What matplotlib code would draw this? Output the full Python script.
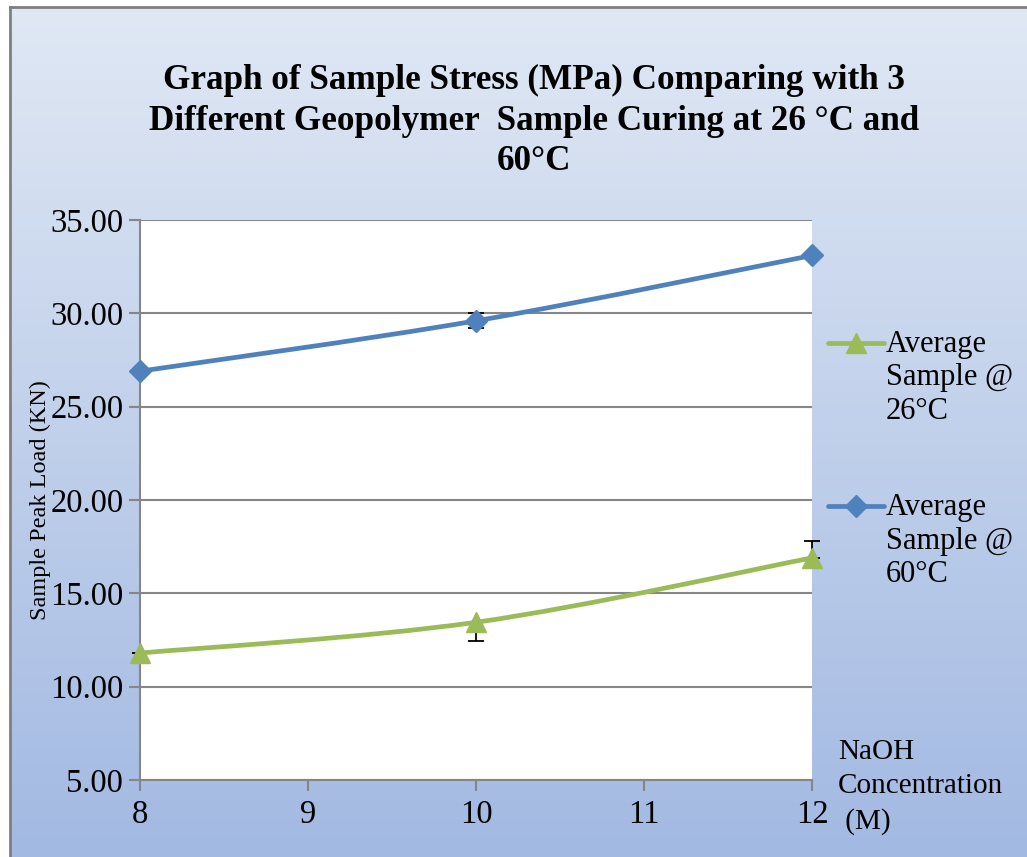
import numpy as np
import matplotlib
matplotlib.use("Agg")
import matplotlib.pyplot as plt
from matplotlib.path import Path
from matplotlib.patches import PathPatch
from matplotlib.lines import Line2D

plt.rcParams['font.family'] = ['Liberation Serif', 'DejaVu Serif']

# NaOH concentration (M) and average peak loads
conc = [8, 10, 12]
load_26 = [11.8, 13.45, 16.9]
load_60 = [26.9, 29.6, 33.1]

# error bar extents (minus, plus)
err_26 = [[0.0, 1.0, 0.0], [0.0, 0.0, 0.9]]
err_60 = [[0.0, 0.4, 0.0], [0.0, 0.4, 0.0]]

series_labels = ['Average\nSample @\n26\u00b0C', 'Average\nSample @\n60\u00b0C']

green = '#9bbb59'
blue = '#4f81bd'
grid_col = '#868686'

W, H = 1027, 857


def smooth_path(xs, ys):
    # cubic Bezier through the points, same idea as a spreadsheet "smoothed line"
    pts = np.column_stack([xs, ys]).astype(float)
    verts = [pts[0]]
    codes = [Path.MOVETO]
    n = len(pts)
    for i in range(n - 1):
        p0 = pts[i - 1] if i > 0 else pts[i]
        p1 = pts[i]
        p2 = pts[i + 1]
        p3 = pts[i + 2] if i + 2 < n else pts[i + 1]
        c1 = p1 + (p2 - p0) / 6.0
        c2 = p2 - (p3 - p1) / 6.0
        verts += [c1, c2, p2]
        codes += [Path.CURVE4] * 3
    return Path(verts, codes)


fig = plt.figure(figsize=(W / 100, H / 100), dpi=100)

# gradient chart background with a thin grey frame
bg = fig.add_axes([10 / W, 0, 1 - 10 / W, 1 - 7 / H], zorder=-5)
grad = np.linspace(0, 1, 256).reshape(-1, 1)
cmap = matplotlib.colors.LinearSegmentedColormap.from_list('bg', ['#e0e8f4', '#a2b9e2'])
bg.imshow(grad, aspect='auto', cmap=cmap, extent=[0, 1, 0, 1], origin='upper')
bg.set_xlim(0, 1)
bg.set_ylim(0, 1)
bg.set_xticks([])
bg.set_yticks([])
for side in ['right', 'bottom']:
    bg.spines[side].set_visible(False)
for side in ['left', 'top']:
    bg.spines[side].set_color('#7f7f7f')
    bg.spines[side].set_linewidth(2)

ax = fig.add_axes([140 / W, 1 - 780 / H, (812 - 140) / W, (780 - 220) / H])
ax.set_facecolor('white')
ax.set_xlim(8, 12)
ax.set_ylim(5, 35)
ax.set_yticks(np.arange(5, 36, 5))
ax.set_yticklabels([f'{v:.2f}' for v in np.arange(5, 36, 5)])
ax.set_xticks([8, 9, 10, 11, 12])
ax.yaxis.grid(True, color=grid_col, linewidth=1.5)
ax.set_axisbelow(True)
for side in ['right', 'top']:
    ax.spines[side].set_visible(False)
for side in ['left', 'bottom']:
    ax.spines[side].set_color(grid_col)
    ax.spines[side].set_linewidth(1.5)
ax.tick_params(axis='both', colors=grid_col, labelcolor='black', labelsize=23.5,
               length=8, width=1.5, direction='out')
ax.tick_params(axis='x', pad=6)
ax.tick_params(axis='y', pad=4)

# error bars sit underneath the lines and markers
ax.errorbar(conc, load_26, yerr=err_26, fmt='none', ecolor='black', elinewidth=1.3,
            capsize=6, capthick=1.3, zorder=3, clip_on=False)
ax.errorbar(conc, load_60, yerr=err_60, fmt='none', ecolor='black', elinewidth=1.3,
            capsize=6, capthick=1.3, zorder=3, clip_on=False)

for ys, col in [(load_26, green), (load_60, blue)]:
    patch = PathPatch(smooth_path(conc, ys), facecolor='none', edgecolor=col,
                      linewidth=3.4, capstyle='round', zorder=4, clip_on=False)
    ax.add_patch(patch)

ax.plot(conc, load_26, linestyle='none', marker='^', markersize=15, color=green,
        zorder=5, clip_on=False)
ax.plot(conc, load_60, linestyle='none', marker='D', markersize=11, color=blue,
        zorder=5, clip_on=False)

ax.set_ylabel('Sample Peak Load (KN)', fontsize=17.5)
ax.yaxis.set_label_coords(-0.133, 0.5)

fig.text(534 / W, 1 - 121 / H, 'Graph of Sample Stress (MPa) Comparing with 3\n'
         'Different Geopolymer  Sample Curing at 26 \u00b0C and\n60\u00b0C',
         ha='center', va='center', fontsize=25.3, fontweight='bold', linespacing=1.31)

fig.text(838 / W, 1 - 787 / H, 'NaOH\nConcentration\n (M)', ha='left', va='center',
         fontsize=21, linespacing=1.4)

# legend: handle level with the first line of each label
legend_rows = [(343, green, '^', 15), (506, blue, 'D', 11)]
for (y0, col, mk, ms), lab in zip(legend_rows, series_labels):
    fy = 1 - y0 / H
    fig.add_artist(Line2D([828 / W, 884 / W], [fy, fy], color=col, linewidth=3.4,
                          solid_capstyle='round', transform=fig.transFigure))
    fig.add_artist(Line2D([856 / W], [fy], color=col, marker=mk, markersize=ms,
                          linestyle='none', transform=fig.transFigure))
    fig.text(886 / W, 1 - (y0 + 35) / H, lab, ha='left', va='center', fontsize=22,
             linespacing=1.19)

fig.savefig('out.png', dpi=100)
